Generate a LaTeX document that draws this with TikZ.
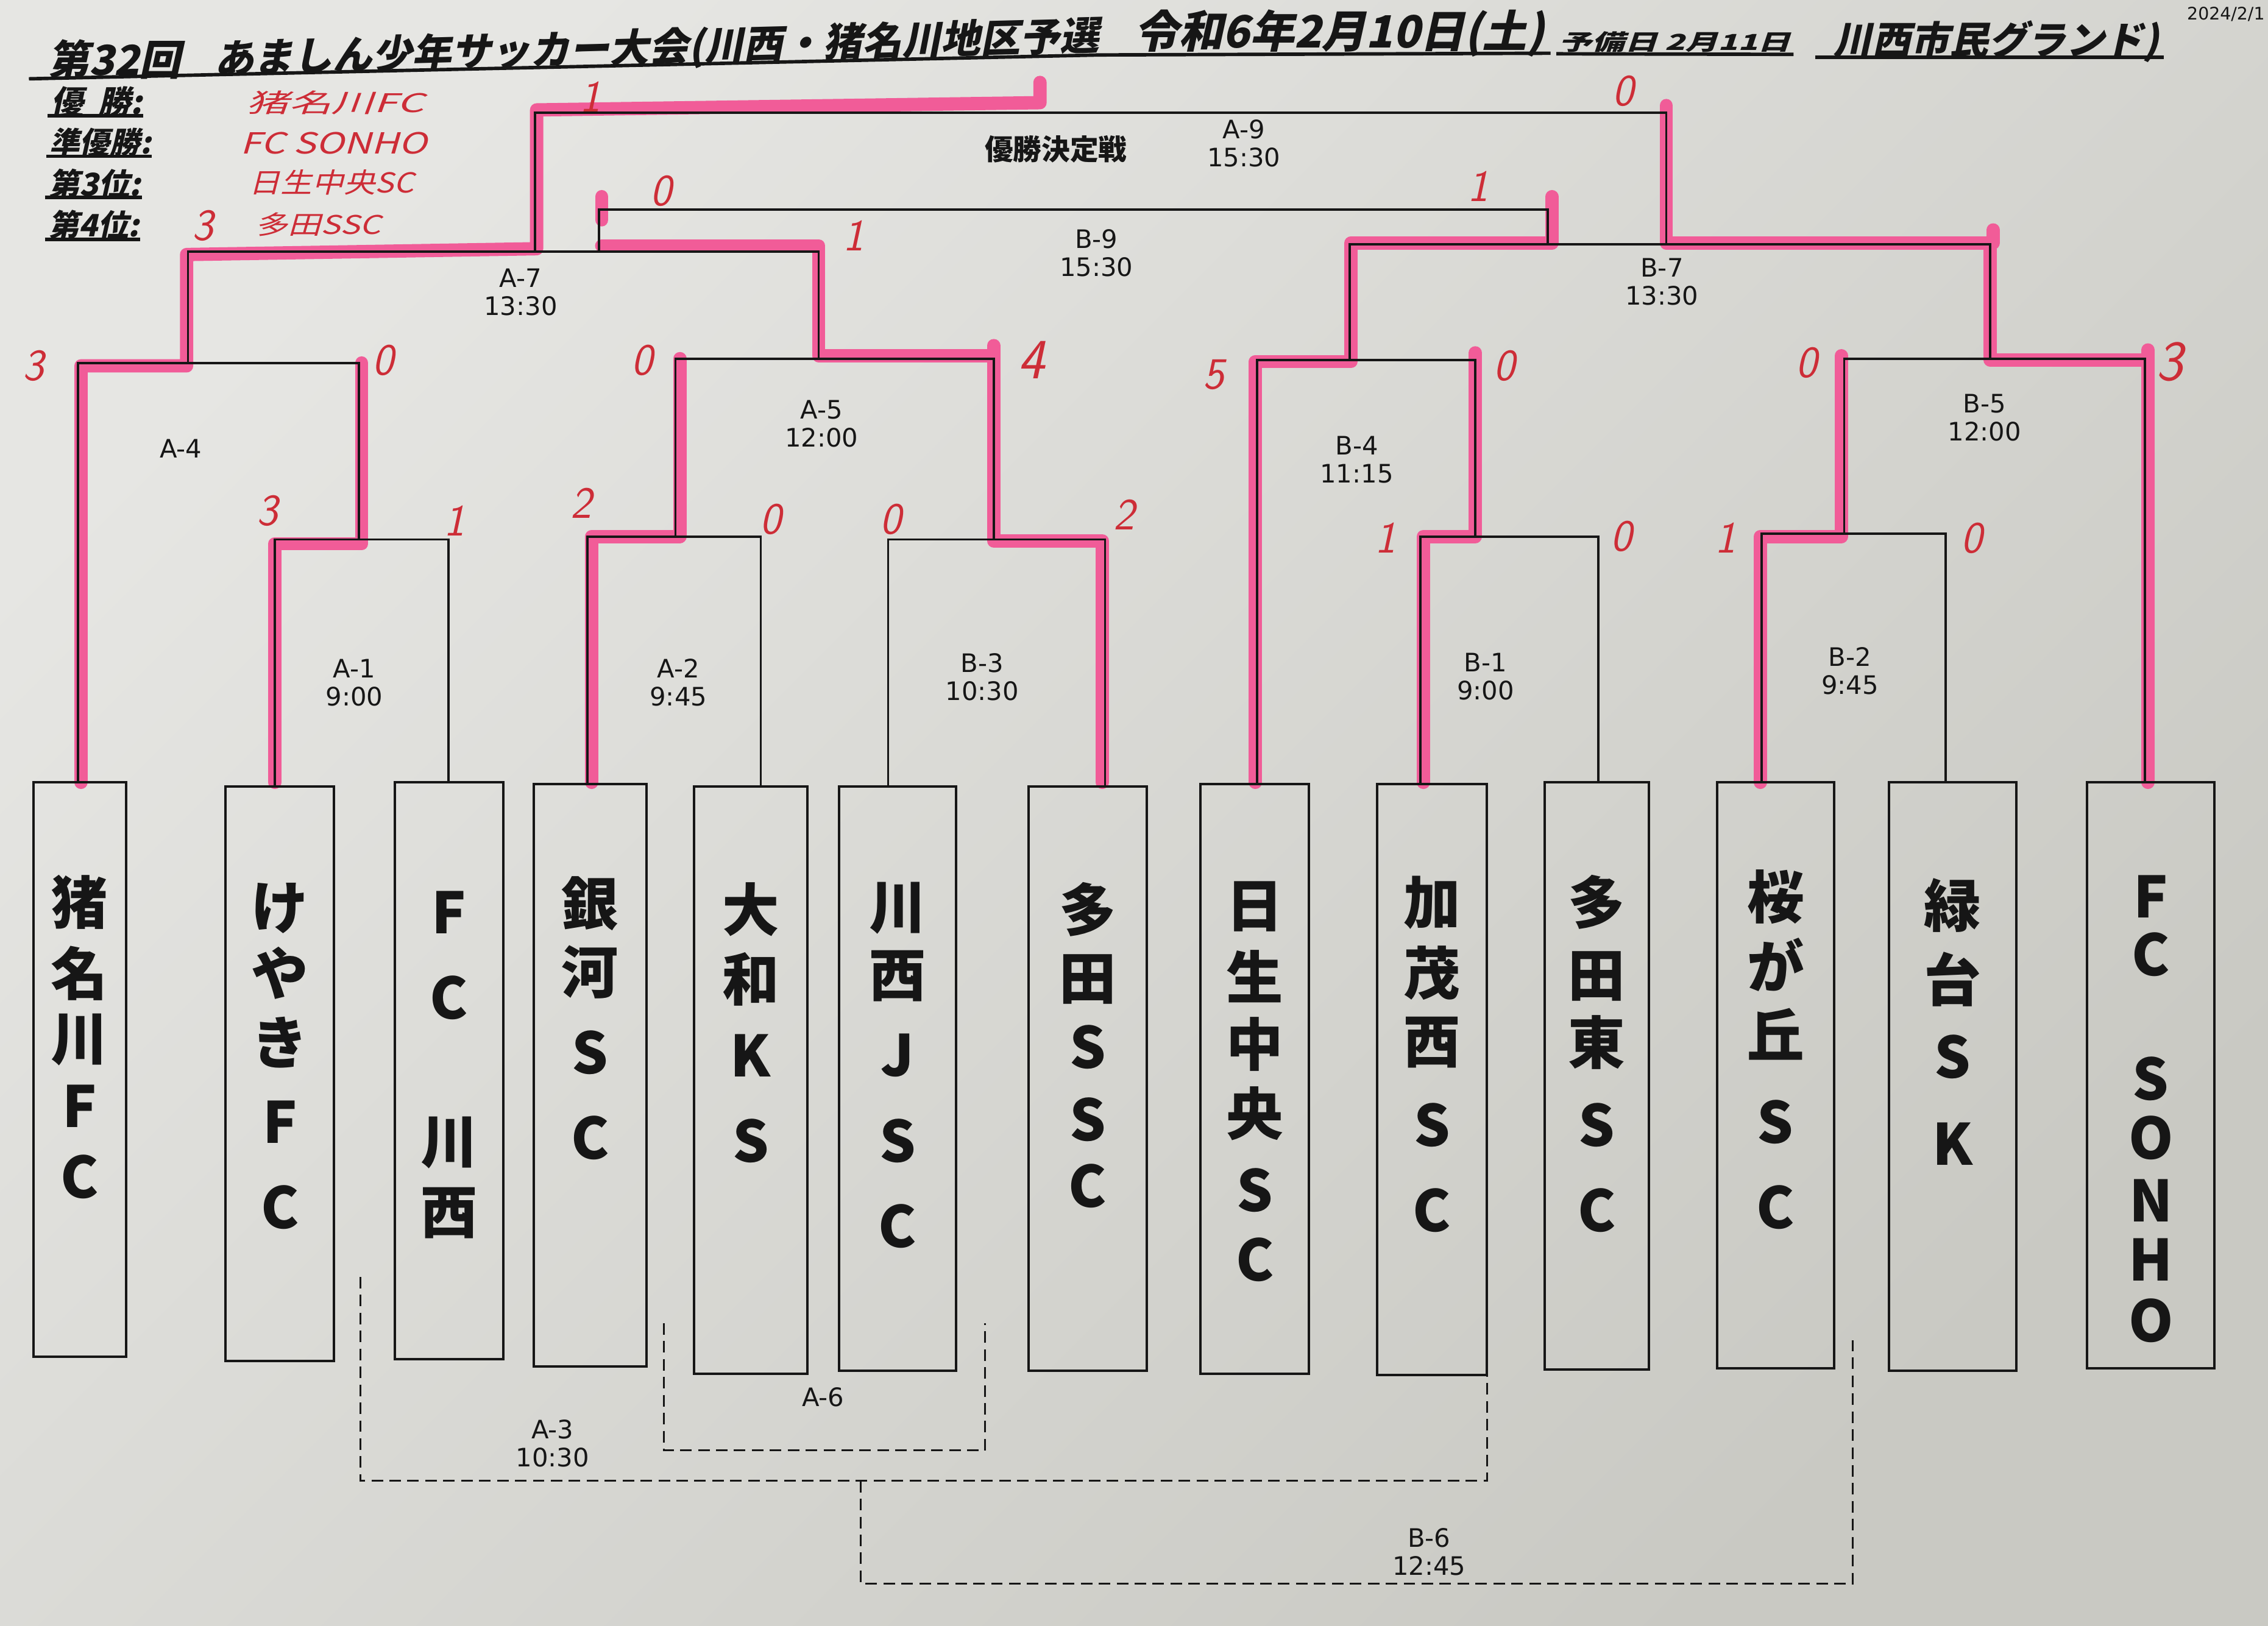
\documentclass[tikz,border=0pt]{standalone}
\usepackage{fontspec}
\usepackage{graphicx}
\usetikzlibrary{calc}
\newfontfamily\jp{Noto Sans CJK JP}
\newfontfamily\jpsl[FakeSlant=0.22]{Noto Sans CJK JP}
\newfontfamily\labfont{DejaVu Sans}
\newlength\uu
\setlength\uu{0.25mm}
\newcommand\fitw[2]{\resizebox{#1\uu}{!}{#2}}
\newcommand\fitwh[3]{\resizebox{#1\uu}{#2\uu}{#3}}
\definecolor{pinkhl}{RGB}{241,92,152}
\definecolor{redpen}{RGB}{205,45,55}
\definecolor{paperA}{RGB}{230,230,227}
\definecolor{paperB}{RGB}{201,201,195}
\definecolor{ink}{RGB}{22,22,22}
\newcommand\tbox[5]{\node[teambox, minimum width={(#3-#2)*0.25mm}, minimum height={(#5-#4)*0.25mm}] (#1) at ({(#2+#3)/2},{(#4+#5)/2}) {};}
\newcommand\tchars[3]{\foreach \mychar/\yy [count=\k] in {#3}{\node[tchar] (#1c\k) at (#2,\yy) {\mychar};}}
\begin{document}
\begin{tikzpicture}[x=0.25mm,y=-0.25mm,
  br/.style={draw=ink, line width=1.1pt},
  teambox/.style={draw=ink, line width=1.2pt, inner sep=0pt, outer sep=0pt, rectangle},
  tchar/.style={font=\jp\bfseries\fontsize{28}{28}\selectfont, text=ink, inner sep=0pt},
  lab/.style={font=\labfont\fontsize{12.5}{13.8}\selectfont, text=ink, align=center, inner sep=0pt},
  boldjp/.style={font=\jp\bfseries\fontsize{14}{14}\selectfont, text=ink, inner sep=0pt},
  hl/.style={draw=pinkhl, line width=2.3mm, line cap=round, line join=round},
  sc/.style={font=\sffamily\itshape\fontsize{22}{22}\selectfont, text=redpen, inner sep=0pt},
  scbig/.style={font=\sffamily\itshape\fontsize{28}{28}\selectfont, text=redpen, inner sep=0pt},
  dsh/.style={draw=ink, line width=0.9pt, dash pattern=on 2mm off 1.1mm},
  ttl/.style={font=\jpsl\bfseries\fontsize{20}{20}\selectfont, text=ink, inner sep=0pt},
  legblk/.style={font=\jpsl\bfseries\fontsize{14}{14}\selectfont, text=ink, inner sep=0pt},
  legred/.style={font=\jpsl\fontsize{14}{14}\selectfont, text=redpen, inner sep=0pt},
  ulb/.style={draw=ink, line width=1.7pt},
]
\useasboundingbox (0,0) rectangle (1568,1124);
\shade[top color=paperA, bottom color=paperB, shading angle=45] (0,0) rectangle (1568,1124);

% ---------- header ----------
\node[ttl] (hd1) at (79,41) {\fitw{92}{第32回}};
\node[ttl, rotate=1.5] (hd2) at (454,33.6) {\fitw{612}{あましん少年サッカー大会(川西・猪名川地区予選}};
\node[ttl] (hd3) at (926,23) {\fitw{284}{令和6年2月10日(土)}};
\node[ttl] (hd4) at (1158,29) {\fitwh{160}{13}{予備日 2月11日}};
\node[ttl] (hd5) at (1380,28.5) {\fitw{225}{川西市民グランド)}};
\draw[ulb] (20,54.5) -- (760,38) -- (1072,36.8);
\draw[ulb] (1076,37.2) -- (1240,37.6);
\draw[ulb] (1255,39.5) -- (1496,39.5);
\node[anchor=east, font=\labfont\fontsize{8.5}{8.5}\selectfont, text=ink, inner sep=0pt] (date) at (1566,10) {2024/2/1};

% legend
\node[legblk, anchor=west] (g1) at (35,70.5) {\fitw{63}{優\hspace{0.45em}勝:}};
\node[legblk, anchor=west] (g2) at (34,98.5) {\fitw{70}{準優勝:}};
\node[legblk, anchor=west] (g3) at (33,127) {\fitw{64}{第3位:}};
\node[legblk, anchor=west] (g4) at (33,155.5) {\fitw{63}{第4位:}};
\draw[ulb] (33,80) -- (99,80);
\draw[ulb] (32,108) -- (105,108);
\draw[ulb] (31,136.5) -- (98,136.5);
\draw[ulb] (31,165.5) -- (97,165.5);
\node[legred, anchor=west] (r1) at (170,71) {\fitwh{123}{15}{猪名川FC}};
\node[legred, anchor=west] (r2) at (166,99) {\fitwh{129}{15}{FC SONHO}};
\node[legred, anchor=west] (r3) at (172,126) {\fitwh{114}{16}{日生中央SC}};
\node[legred, anchor=west] (r4) at (176,155) {\fitwh{87}{15}{多田SSC}};

% ---------- pink highlights ----------
\draw[hl] (56,541) -- (56,253) -- (129,253) -- (129,176) -- (371,172) -- (371,76) -- (719,71) -- (719,57);
\draw[hl] (190,541) -- (190,376) -- (250,376) -- (250,251);
\draw[hl] (409,541) -- (409,371) -- (470,371) -- (470,248);
\draw[hl] (762,541) -- (762,374) -- (687,374) -- (687,246) -- (566,246) -- (566,170) -- (416,170);
\draw[hl] (687,246) -- (687,239);
\draw[hl] (416,136) -- (416,152);
\draw[hl] (868,541) -- (868,250) -- (934,250) -- (934,168) -- (1073,168) -- (1073,136);
\draw[hl] (984,541) -- (984,371) -- (1020,371) -- (1020,244);
\draw[hl] (1217,541) -- (1217,371) -- (1273,371) -- (1273,246);
\draw[hl] (1485,541) -- (1485,249) -- (1376,249) -- (1376,168) -- (1152,168) -- (1152,73);
\draw[hl] (1485,249) -- (1485,242);
\draw[hl] (1378,168) -- (1378,159);

% ---------- team boxes ----------
\tbox{b1}{23}{87}{541}{938}
\tbox{b2}{156}{231}{544}{941}
\tbox{b3}{273}{348}{541}{940}
\tbox{b4}{369}{447}{542}{945}
\tbox{b5}{480}{558}{544}{950}
\tbox{b6}{580}{661}{544}{948}
\tbox{b7}{711}{793}{544}{948}
\tbox{b8}{830}{905}{542}{950}
\tbox{b9}{952}{1028}{542}{951}
\tbox{b10}{1068}{1140}{541}{947}
\tbox{b11}{1187}{1268}{541}{946}
\tbox{b12}{1306}{1394}{541}{948}
\tbox{b13}{1443}{1531}{541}{946}

\tchars{b1}{55}{猪/624,名/673,川/719,F/765,C/814}
\tchars{b2}{193.5}{け/628,や/673,き/721,F/776,C/835}
\tchars{b3}{310.5}{F/631,C/690,川/790,西/839}
\tchars{b4}{408}{銀/625,河/672,S/728,C/787}
\tchars{b5}{519}{大/629,和/677,K/730,S/789}
\tchars{b6}{620.5}{川/628,西/675,J/730,S/789,C/848}
\tchars{b7}{752}{多/629,田/677,S/724,S/774,C/820}
\tchars{b8}{867.5}{日/627,生/675,中/722,央/770,S/823,C/871}
\tchars{b9}{990}{加/624,茂/673,西/721,S/778,C/837}
\tchars{b10}{1104}{多/624,田/675,東/721,S/778,C/837}
\tchars{b11}{1227.5}{桜/620,が/667,丘/715,S/776,C/835}
\tchars{b12}{1350}{緑/626,台/677,S/731,K/791}
\tchars{b13}{1487}{F/620,C/660,S/746,O/787,N/830,H/871,O/913}

% attach points on box tops
\path (b1.north west) ++(31,0) coordinate (t1);
\path (b2.north west) ++(34,0) coordinate (t2);
\path (b3.north west) ++(37,0) coordinate (t3);
\path (b4.north west) ++(37,0) coordinate (t4);
\path (b5.north west) ++(46,0) coordinate (t5);
\path (b6.north west) ++(34,0) coordinate (t6);
\path (b7.north west) ++(53,0) coordinate (t7);
\path (b8.north west) ++(39,0) coordinate (t8);
\path (b9.north west) ++(30,0) coordinate (t9);
\path (b10.north west) ++(37,0) coordinate (t10);
\path (b11.north west) ++(31,0) coordinate (t11);
\path (b12.north west) ++(39,0) coordinate (t12);
\path (b13.north west) ++(40,0) coordinate (t13);

% bracket joints
\coordinate (A1) at (248,373);
\coordinate (A2) at (467,371);
\coordinate (B3) at (687,373);
\coordinate (B1) at (1020,371);
\coordinate (B2) at (1275,369);
\coordinate (A4) at (130,251);
\coordinate (A5) at (566,248);
\coordinate (B4) at (933,249);
\coordinate (B5) at (1376,248);
\coordinate (A7) at (370,174);
\coordinate (A7b) at (414,174);
\coordinate (B7) at (1152,169);
\coordinate (B7b) at (1070,169);
\coordinate (A9) at (760,78);
\coordinate (B9) at (740,145);

\draw[br] (t2) |- (A1) -| (t3);
\draw[br] (t4) |- (A2) -| (t5);
\draw[br] (t6) |- (B3) -| (t7);
\draw[br] (t9) |- (B1) -| (t10);
\draw[br] (t11) |- (B2) -| (t12);
\draw[br] (t1) |- (A4) -| (A1);
\draw[br] (A2) |- (A5) -| (B3);
\draw[br] (t8) |- (B4) -| (B1);
\draw[br] (B2) |- (B5) -| (t13);
\draw[br] (A4) |- (A7) -| (A5);
\draw[br] (B4) |- (B7) -| (B5);
\draw[br] (A7) |- (A9) -| (B7);
\draw[br] (A7b) |- (B9) -| (B7b);

% dashed brackets
\coordinate (A3s) at (249,883);
\coordinate (A3m) at (640,1024);
\draw[dsh] (A3s) |- (A3m) -| (b9.south east);
\coordinate (A6l) at (459,915);
\coordinate (A6r) at (681,915);
\coordinate (A6m) at (570,1003);
\draw[dsh] (A6l) |- (A6m) -| (A6r);
\coordinate (B6l) at (595,1024);
\coordinate (B6r) at (1281,927);
\coordinate (B6m) at (940,1095);
\draw[dsh] (B6l) |- (B6m) -| (B6r);

% ---------- match labels ----------
\node[lab] (lA1) at (245,472) {A-1\\9:00};
\node[lab] (lA2) at (469,472) {A-2\\9:45};
\node[lab] (lB3) at (679,468) {B-3\\10:30};
\node[lab] (lB1) at (1027,468) {B-1\\9:00};
\node[lab] (lB2) at (1279,464) {B-2\\9:45};
\node[lab] (lA4) at (125,310) {A-4};
\node[lab] (lA5) at (568,293) {A-5\\12:00};
\node[lab] (lB4) at (938,318) {B-4\\11:15};
\node[lab] (lB5) at (1372,289) {B-5\\12:00};
\node[lab] (lA7) at (360,202) {A-7\\13:30};
\node[lab] (lB7) at (1149,195) {B-7\\13:30};
\node[lab] (lB9) at (758,175) {B-9\\15:30};
\node[lab] (lA9) at (860,99) {A-9\\15:30};
\node[boldjp] (lfin) at (730,103) {優勝決定戦};
\node[lab] (lA3) at (382,998) {A-3\\10:30};
\node[lab] (lA6) at (569,966) {A-6};
\node[lab] (lB6) at (988,1073) {B-6\\12:45};

% ---------- scores ----------
\node[sc] (s1) at (408,67) {1};
\node[sc] (s2) at (1122,63) {0};
\node[sc] (s3) at (457,132) {0};
\node[sc] (s4) at (1022,129) {1};
\node[sc] (s5) at (140,156) {3};
\node[sc] (s6) at (590,163) {1};
\node[sc] (s7) at (23,253) {3};
\node[sc] (s8) at (265,249) {0};
\node[sc] (s9) at (444,249) {0};
\node[scbig] (s10) at (713,249) {4};
\node[sc] (s11) at (185,353) {3};
\node[sc] (s12) at (314,360) {1};
\node[sc] (s13) at (402,348) {2};
\node[sc] (s14) at (533,359) {0};
\node[sc] (s15) at (616,359) {0};
\node[sc] (s16) at (777,356) {2};
\node[sc] (s17) at (839,259) {5};
\node[sc] (s18) at (1040,253) {0};
\node[sc] (s19) at (1249,251) {0};
\node[scbig] (s20) at (1500,250) {3};
\node[sc] (s21) at (958,372) {1};
\node[sc] (s22) at (1121,371) {0};
\node[sc] (s23) at (1193,372) {1};
\node[sc] (s24) at (1363,372) {0};
\end{tikzpicture}
\end{document}
